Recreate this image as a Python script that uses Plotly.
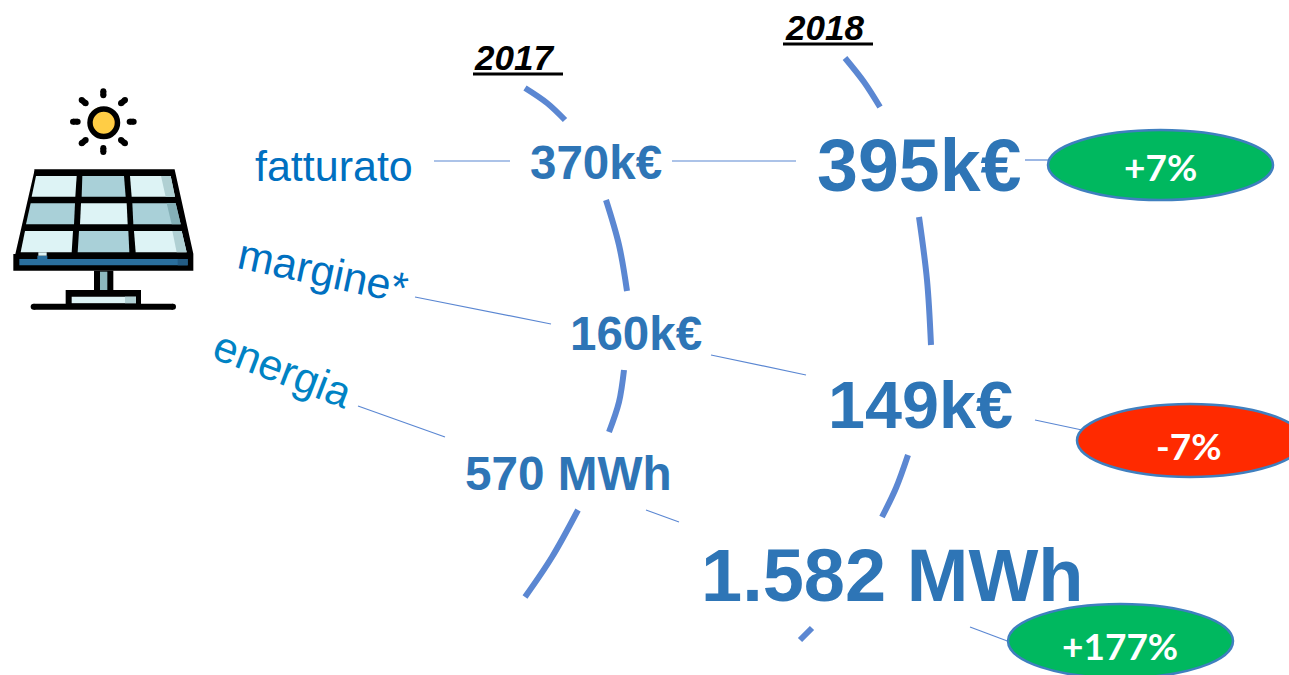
import plotly.graph_objects as go

# ---- content -------------------------------------------------------------
years = ["2017", "2018"]
metrics = ["fatturato", "margine*", "energia"]
values_2017 = ["370k€", "160k€", "570 MWh"]
values_2018 = ["395k€", "149k€", "1.582 MWh"]
deltas = ["+7%", "-7%", "+177%"]

# ---- drawing geometry (picture pixels, kept apart from the content) ------
W, H = 1289, 675
BLUE, LINE, ARC = "#2E75B6", "#5B87D2", "#5B87D2"
SANS = "Liberation Sans"

arc_2017 = [
    [(525, 88), (547, 103), (565, 120)],
    [(606, 200), (619, 245), (627, 291)],
    [(624, 370), (619, 402), (609, 432)],
    [(578, 510), (552, 557), (525, 597)],
]
arc_2018 = [
    [(845, 58), (864, 82), (880, 107)],
    [(919, 217), (927, 280), (931, 345)],
    [(908, 455), (896, 488), (882, 517)],
    [(812, 628), (800, 640)],
]
connectors = [
    [(434, 161), (510, 161)], [(672, 161), (796, 161)], [(1025, 160), (1050, 160)],
    [(415, 297), (551, 324)], [(711, 355), (806, 375)], [(1035, 420), (1082, 430)],
    [(358, 406), (445, 437)], [(646, 510), (679, 522)], [(970, 627), (1010, 642)],
]
ellipses = [(1048, 130, 1273, 200, "#00B85F"), (1077, 404, 1303, 477, "#FF2A00"), (1008, 604, 1233, 678, "#00B85F")]

fig = go.Figure()


def poly(pts, fill, outline=None, outline_width=0):
    fig.add_trace(go.Scatter(x=[p[0] for p in pts], y=[p[1] for p in pts], mode="lines" if outline else "none",
                             fill="toself", fillcolor=fill, line=dict(color=outline, width=outline_width) if outline else None,
                             hoverinfo="skip", showlegend=False))


def line(pts, color, width, cap=False):
    fig.add_trace(go.Scatter(x=[p[0] for p in pts], y=[p[1] for p in pts], mode="lines+markers" if cap else "lines",
                             line=dict(color=color, width=width, shape="spline" if len(pts) > 2 else "linear", smoothing=1),
                             marker=dict(color=color, size=width, line=dict(width=0)) if cap else None,
                             hoverinfo="skip", showlegend=False))


def text(x, y, s, size, color, bold=False, font=SANS, angle=0, italic=False):
    label = s
    if italic:
        label = f"<i>{label}</i>"
    if bold:
        label = f"<b>{label}</b>"
    fig.add_annotation(x=x, y=y, text=label, showarrow=False, textangle=angle,
                       font=dict(family=font, size=size, color=color), xanchor="center", yanchor="middle")


# arcs and connectors
for seg in arc_2017 + arc_2018:
    line(seg, ARC, 6)
for seg in connectors:
    line(seg, LINE, 1.2)

# icon: zoomed-crop coordinates converted to picture pixels
def Z(pts):
    return [(x / 3, 80 + y / 3) for x, y in pts]


INK, LIGHT, MID = "#000000", "#DDF3F5", "#A9D0D8"
SH1, SH2 = "#B0D0D3", "#85B0B7"
poly(Z([(103, 274), (519, 274), (574, 522), (574, 566), (46, 566), (46, 522)]), INK, INK, 4)
cells = [
    ([(108, 288), (230, 288), (226, 350), (95, 350)], LIGHT),
    ([(247, 288), (372, 288), (377, 350), (245, 350)], MID),
    ([(390, 288), (512, 288), (525, 350), (395, 350)], LIGHT),
    ([(92, 370), (225, 370), (222, 433), (78, 433)], MID),
    ([(243, 370), (380, 370), (383, 433), (240, 433)], LIGHT),
    ([(397, 370), (527, 370), (542, 433), (400, 433)], MID),
    ([(75, 453), (219, 453), (215, 517), (62, 517)], LIGHT),
    ([(237, 453), (385, 453), (388, 517), (233, 517)], MID),
    ([(402, 453), (545, 453), (560, 517), (407, 517)], LIGHT),
    ([(483, 288), (512, 288), (525, 350), (497, 350)], SH1),
    ([(500, 370), (527, 370), (542, 433), (515, 433)], SH2),
    ([(517, 453), (545, 453), (560, 517), (530, 517)], SH1),
    ([(58, 537), (563, 537), (563, 556), (58, 556)], "#2A6F9E"),
    ([(533, 537), (563, 537), (563, 556), (533, 556)], "#235C85"),
    ([(112, 527), (142, 527), (142, 537), (112, 537)], "#2A6F9E"),
    ([(115, 517), (140, 517), (140, 527), (115, 527)], LIGHT),
    ([(282, 572), (340, 572), (340, 632), (282, 632)], INK),
    ([(300, 575), (322, 575), (322, 632), (300, 632)], "#8DB8BE"),
    ([(197, 630), (423, 630), (423, 680), (197, 680)], INK),
    ([(215, 650), (408, 650), (408, 670), (215, 670)], LIGHT),
    ([(375, 650), (408, 650), (408, 670), (375, 670)], SH1),
]
for pts, col in cells:
    poly(Z(pts), col)
rays = [
    [(310, 34), (310, 46)], [(310, 204), (310, 216)], [(219, 125), (233, 125)], [(389, 125), (401, 125)],
    [(245, 60), (257, 70)], [(375, 60), (363, 70)], [(245, 190), (257, 180)], [(375, 190), (363, 180)],
    [(101, 680), (519, 680)],
]
for seg in rays:
    line(Z(seg), INK, 6, cap=True)

shapes = [
    dict(type="circle", xref="x", yref="y", layer="above", x0=88, y0=107, x1=119, y1=138, fillcolor="#FFB52E", line=dict(width=0)),
    dict(type="circle", xref="x", yref="y", layer="above", x0=88, y0=107, x1=114, y1=138, fillcolor="#FFCD45", line=dict(width=0)),
    dict(type="circle", xref="x", yref="y", layer="above", x0=90, y0=109, x1=117.5, y1=136.5, fillcolor="rgba(0,0,0,0)",
         line=dict(color=INK, width=5.5)),
    dict(type="line", xref="x", yref="y", x0=473, x1=563, y0=74, y1=74, line=dict(color=INK, width=3)),
    dict(type="line", xref="x", yref="y", x0=783, x1=873, y0=44, y1=44, line=dict(color=INK, width=3)),
]
for x0, y0, x1, y1, col in ellipses:
    shapes.append(dict(type="circle", xref="x", yref="y", x0=x0, y0=y0, x1=x1, y1=y1, fillcolor=col,
                       line=dict(color="#3F7FBF", width=2.5)))
fig.update_layout(shapes=shapes)

# text
text(514, 57, years[0], 35, "#000000", bold=True, italic=True)
text(824, 27, years[1], 35, "#000000", bold=True, italic=True)
text(333.5, 166, metrics[0], 43, "#0070C0")
text(323, 271, metrics[1], 43, "#0070C0", angle=12)
text(282.5, 369, metrics[2], 43, "#0083C4", angle=21)
text(596, 162, values_2017[0], 47.5, BLUE, bold=True)
text(636, 333, values_2017[1], 47.5, BLUE, bold=True)
text(568.5, 473, values_2017[2], 47.7, BLUE, bold=True)
text(918.5, 165, values_2018[0], 73.5, BLUE, bold=True)
text(920, 405, values_2018[1], 66.5, BLUE, bold=True)
text(892, 575, values_2018[2], 74, BLUE, bold=True)
text(1160.5, 166, deltas[0], 37, "#FFFFFF", bold=True, font="Lato")
text(1189, 445, deltas[1], 37, "#FFFFFF", bold=True, font="Lato")
text(1120, 645, deltas[2], 37, "#FFFFFF", bold=True, font="Lato")

fig.update_layout(
    width=W, height=H, margin=dict(l=0, r=0, t=0, b=0), paper_bgcolor="white", plot_bgcolor="white", showlegend=False,
    xaxis=dict(range=[0, W], visible=False, fixedrange=True),
    yaxis=dict(range=[H, 0], visible=False, fixedrange=True),
)
fig.write_html("out.html", config=dict(displayModeBar=False),
               post_script="document.body.style.margin='0';")
